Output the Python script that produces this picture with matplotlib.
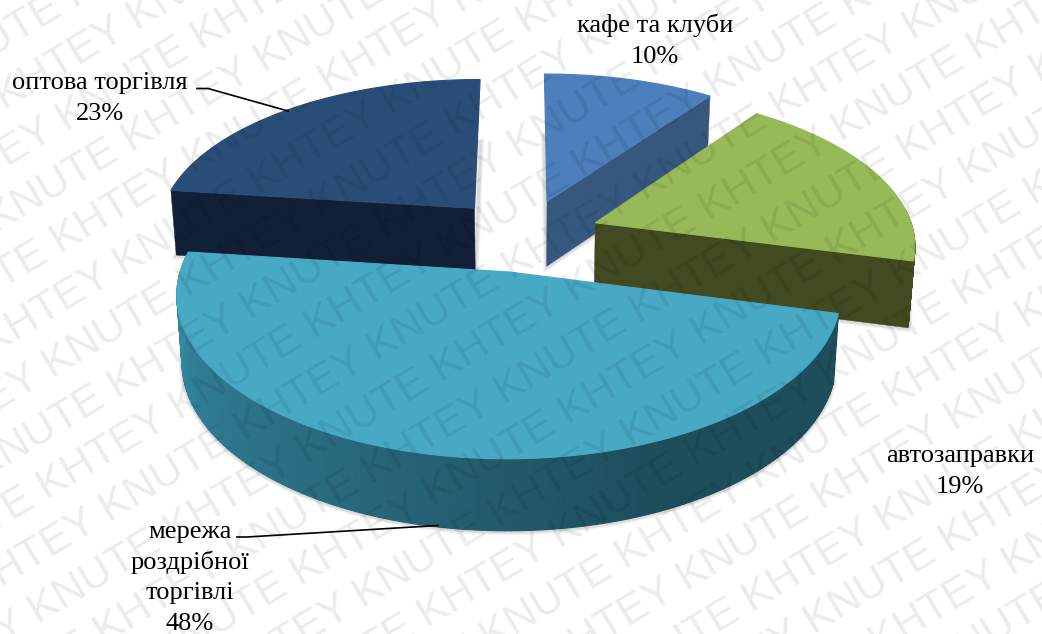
import numpy as np
import matplotlib
matplotlib.use('Agg')
import matplotlib.pyplot as plt
from matplotlib.patches import Polygon

labels = ['кафе та клуби', 'автозаправки', 'мережа\nроздрібної\nторгівлі', 'оптова торгівля']
shares = [10, 19, 48, 23]
top_colors = ['#4c7fbc', '#98b958', '#48a9c4', '#2a4d77']
side_colors = ['#36587f', '#414a20', '#2f7a92', '#122036']
label_pos = [(655, 32), (960, 462), (190, 538), (100, 89)]
leaders = [None, None, [(237, 537), (247, 537), (438, 525.5)], [(197, 88.5), (208, 88.5), (288, 111)]]
# which cut wall of each slice faces the viewer: 0 start, -1 end, None neither
cut_wall = [-1, -1, None, 0]

# pie geometry in pixels
cx, cy = 524, 235
rx, ry = 319, 152
persp = 0.13
explode = 0.24
depth = 66
bottom_shrink = 0.985


def project(x, y):
    s = 1 / (1 + persp * y)
    return cx + rx * x * s, cy - ry * y * s


def face_points(ex, ey, ang):
    px, py = project(ex + np.sin(ang), ey + np.cos(ang))
    return np.column_stack([px, py])


def drop(pts, ey_vals):
    # bottom edge of the slab under the given top points
    s = 1 / (1 + persp * ey_vals)
    out = pts.copy()
    out[:, 0] = cx + (pts[:, 0] - cx) * bottom_shrink
    out[:, 1] = pts[:, 1] + depth * np.sqrt(s)
    return out


def shade(color, k):
    rgb = np.array(matplotlib.colors.to_rgb(color))
    return tuple(np.clip(rgb * k, 0, 1))


fig = plt.figure(figsize=(10.42, 6.34), dpi=100)
ax = fig.add_axes([0, 0, 1, 1])
ax.set_xlim(0, 1042)
ax.set_ylim(634, 0)
ax.axis('off')

edges = np.cumsum([0] + shares) / sum(shares) * 2 * np.pi
# back slices first so the front ones cover them
order = [3, 0, 1, 2]

for z, i in enumerate(order):
    a0, a1 = edges[i], edges[i + 1]
    mid = (a0 + a1) / 2
    ex, ey = explode * np.sin(mid), explode * np.cos(mid)
    base = 10 + z * 5

    ang = np.linspace(a0, a1, 160)
    rim = face_points(ex, ey, ang)
    rim_y = ey + np.cos(ang)
    rim_low = drop(rim, rim_y)
    apex = np.array(project(ex, ey))
    apex_low = drop(apex[None, :], np.array([ey]))[0]

    # soft shadow under the slab
    outline = np.vstack([apex_low[None, :], rim_low])
    for w, al in [(7, 0.05), (5, 0.07), (3, 0.1)]:
        ax.add_patch(Polygon(outline + [0, 1], closed=True, fc='none', ec='#505050',
                             lw=w * 0.72, alpha=al, zorder=base))

    # outer wall, the big slice gets darker towards the right
    for k in range(len(ang) - 1):
        if np.cos(ang[k]) > 0.1:
            continue
        quad = [rim[k], rim[k + 1], rim_low[k + 1], rim_low[k]]
        col = side_colors[i]
        if i == 2:
            t = (ang[k] - a0) / (a1 - a0)
            col = shade(side_colors[i], 0.63 + 0.55 * max(t - 0.3, 0) / 0.7)
        ax.add_patch(Polygon(quad, closed=True, fc=col, ec=col, lw=0.8, zorder=base + 1))

    if cut_wall[i] is not None:
        j = cut_wall[i]
        face = [apex, rim[j], rim_low[j], apex_low]
        ax.add_patch(Polygon(face, closed=True, fc=side_colors[i], ec=side_colors[i],
                             lw=0.3, zorder=base + 2))

    # top of the slice
    top = np.vstack([apex[None, :], rim])
    ax.add_patch(Polygon(top, closed=True, fc=top_colors[i], ec=top_colors[i],
                         lw=0.8, zorder=base + 3))

for i, (name, share) in enumerate(zip(labels, shares)):
    x, y = label_pos[i]
    for n, line in enumerate(name.split('\n') + [f'{share}%']):
        ax.text(x, y + n * 30.7, line, family='Liberation Serif', fontsize=19, color='black',
                ha='center', va='baseline', zorder=50)
    if leaders[i]:
        xs, ys = zip(*leaders[i])
        ax.plot(xs, ys, color='black', lw=1.2, zorder=49)

# diagonal watermark over the whole sheet
words = 'KNUTE KHTEY ' * 12
angle = 31
row_step = 51
row_shift = 200
period = 313
phi = np.deg2rad(angle)
along = np.array([np.cos(phi), -np.sin(phi)])
across = np.array([np.sin(phi), np.cos(phi)])
for n in range(-16, 16):
    # first copy of the string starts far off the sheet on the lower left
    start = np.array([690, 590]) + n * row_step * across + (n * row_shift % period - 6 * period) * along
    ax.text(start[0], start[1], words, family='Liberation Sans', fontsize=31, color='black', alpha=0.08,
            rotation=angle, rotation_mode='anchor', ha='left', va='baseline', zorder=60,
            clip_on=True)

fig.savefig('out.png', dpi=100)
